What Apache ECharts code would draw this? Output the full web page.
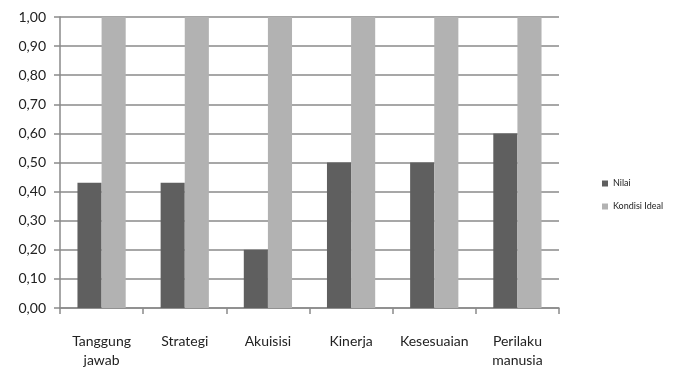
<!DOCTYPE html>
<html>
<head>
<meta charset="utf-8">
<script src="https://cdn.jsdelivr.net/npm/echarts@6/dist/echarts.min.js"></script>
<style>
  html, body { margin: 0; padding: 0; background: #ffffff; }
  #chart { width: 676px; height: 370px; }
</style>
</head>
<body>
<div id="chart"></div>
<script>
// Categories and values for the grouped bar chart
const categories = ['Tanggung\njawab', 'Strategi', 'Akuisisi', 'Kinerja', 'Kesesuaian', 'Perilaku\nmanusia'];
const nilai = [0.43, 0.43, 0.20, 0.50, 0.50, 0.60];
const kondisiIdeal = [1.00, 1.00, 1.00, 1.00, 1.00, 1.00];
const seriesNames = ['Nilai', 'Kondisi Ideal'];

const axisGray = '#8a8a8a';
const fontFamily = 'Lato, "Open Sans", sans-serif';

const chart = echarts.init(document.getElementById('chart'), null, { renderer: 'canvas' });

chart.setOption({
  animation: false,
  backgroundColor: '#ffffff',
  grid: { left: 60, right: 117, top: 17, bottom: 59, containLabel: false },
  legend: {
    orient: 'vertical',
    left: 597,
    top: 174,
    itemWidth: 6,
    itemHeight: 6,
    itemGap: 14,
    icon: 'rect',
    textStyle: { fontSize: 9, color: '#222', fontFamily: fontFamily, padding: [0, 0, 0, 0] },
    data: seriesNames
  },
  xAxis: {
    type: 'category',
    data: categories,
    axisLine: { lineStyle: { color: axisGray, width: 1.5 } },
    axisTick: { show: true, length: 6, lineStyle: { color: axisGray, width: 1.5 } },
    axisLabel: {
      color: '#222',
      fontSize: 14,
      fontFamily: fontFamily,
      margin: 24,
      lineHeight: 19,
      interval: 0
    }
  },
  yAxis: {
    type: 'value',
    min: 0,
    max: 1,
    interval: 0.1,
    axisLine: { show: true, lineStyle: { color: axisGray, width: 1.5 } },
    axisTick: { show: true, length: 6, lineStyle: { color: axisGray, width: 1.5 } },
    splitLine: { lineStyle: { color: axisGray, width: 1.5 } },
    axisLabel: {
      color: '#222',
      fontSize: 14,
      fontFamily: fontFamily,
      margin: 14,
      formatter: v => v.toFixed(2).replace('.', ',')
    }
  },
  series: [
    {
      name: seriesNames[0],
      type: 'bar',
      data: nilai,
      barGap: '0%',
      barCategoryGap: '42%',
      itemStyle: { color: '#5f5f5f' }
    },
    {
      name: seriesNames[1],
      type: 'bar',
      data: kondisiIdeal,
      barGap: '0%',
      barCategoryGap: '42%',
      itemStyle: { color: '#b2b2b2' }
    }
  ]
});
</script>
</body>
</html>
